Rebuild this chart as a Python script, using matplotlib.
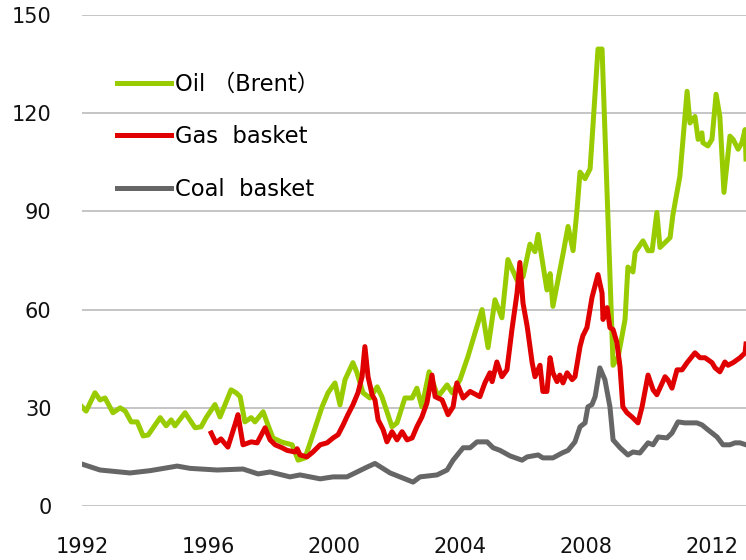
import numpy as np
import matplotlib.pyplot as plt

plt.rcParams['font.family'] = ['DejaVu Sans', 'Noto Sans CJK SC']

# decimal years / price index values
oil_t = [1992.0, 1992.13, 1992.41, 1992.57, 1992.73, 1992.98, 1993.21, 1993.37, 1993.56, 1993.75,
         1993.94, 1994.10, 1994.48, 1994.67, 1994.83, 1994.95, 1995.27, 1995.59, 1995.78, 1995.94,
         1996.22, 1996.38, 1996.73, 1996.89, 1997.02, 1997.17, 1997.37, 1997.49, 1997.75, 1997.90,
         1998.06, 1998.35, 1998.67, 1998.86, 1999.08, 1999.30, 1999.62, 1999.81, 2000.03, 2000.19,
         2000.35, 2000.60, 2000.73, 2000.92, 2001.14, 2001.37, 2001.52, 2001.68, 2001.84, 2002.00,
         2002.25, 2002.48, 2002.63, 2002.79, 2003.02, 2003.30, 2003.59, 2003.75, 2004.00, 2004.25,
         2004.48, 2004.70, 2004.89, 2005.11, 2005.33, 2005.52, 2005.81, 2006.00, 2006.22, 2006.38,
         2006.48, 2006.76, 2006.86, 2006.95, 2007.17, 2007.27, 2007.43, 2007.59, 2007.71, 2007.81,
         2007.97, 2008.13, 2008.22, 2008.38, 2008.51, 2008.86, 2009.02, 2009.24, 2009.33, 2009.49,
         2009.56, 2009.81, 2009.97, 2010.10, 2010.25, 2010.35, 2010.51, 2010.67, 2010.76, 2010.98,
         2011.21, 2011.30, 2011.46, 2011.56, 2011.68, 2011.71, 2011.87, 2012.00, 2012.13, 2012.25,
         2012.38, 2012.57, 2012.67, 2012.83, 2012.95, 2013.05, 2013.08]
oil_v = [30.3, 29.0, 34.6, 32.4, 33.0, 28.5, 30.0, 29.0, 25.7, 25.7,
         21.4, 21.7, 27.0, 24.5, 26.3, 24.5, 28.5, 23.9, 24.2, 27.0,
         31.0, 27.2, 35.5, 34.6, 33.4, 25.7, 27.0, 25.7, 28.8, 24.8,
         20.8, 19.5, 18.7, 14.0, 14.7, 21.0, 30.3, 34.6, 37.6, 30.9,
         38.6, 43.8, 40.7, 34.6, 33.0, 36.4, 33.4, 28.8, 24.2, 25.4,
         33.0, 33.0, 36.0, 30.3, 41.0, 33.4, 37.0, 34.6, 38.6, 45.6,
         53.0, 60.0, 48.4, 63.0, 57.5, 75.3, 69.0, 70.0, 80.0, 77.7,
         83.0, 66.0, 71.0, 61.0, 72.0, 77.0, 85.4, 78.0, 90.0, 102.0,
         100.0, 103.0, 116.0, 139.6, 139.6, 43.0, 45.5, 57.0, 73.0, 71.5,
         77.5, 81.0, 78.0, 78.0, 89.7, 79.0, 80.5, 82.0, 89.0, 100.7,
         126.7, 117.0, 119.0, 112.0, 114.0, 111.0, 110.0, 112.0, 125.8, 119.0,
         95.8, 113.0, 112.0, 109.0, 111.0, 115.0, 106.0]

gas_t = [1996.10, 1996.25, 1996.41, 1996.63, 1996.86, 1996.95, 1997.11, 1997.37, 1997.56, 1997.81,
         1997.97, 1998.13, 1998.35, 1998.51, 1998.76, 1998.83, 1998.92, 1999.14, 1999.33, 1999.56,
         1999.78, 1999.97, 2000.13, 2000.29, 2000.44, 2000.60, 2000.76, 2000.89, 2000.98, 2001.08,
         2001.21, 2001.30, 2001.40, 2001.56, 2001.68, 2001.84, 2002.00, 2002.16, 2002.32, 2002.48,
         2002.63, 2002.79, 2002.95, 2003.11, 2003.21, 2003.43, 2003.62, 2003.78, 2003.90, 2004.10,
         2004.32, 2004.63, 2004.79, 2004.95, 2005.02, 2005.17, 2005.33, 2005.49, 2005.65, 2005.81,
         2005.90, 2006.00, 2006.13, 2006.16, 2006.29, 2006.38, 2006.54, 2006.63, 2006.76, 2006.86,
         2006.95, 2007.08, 2007.17, 2007.27, 2007.40, 2007.56, 2007.65, 2007.81, 2007.90, 2008.03,
         2008.19, 2008.38, 2008.51, 2008.54, 2008.67, 2008.76, 2008.86, 2008.98, 2009.08, 2009.17,
         2009.30, 2009.46, 2009.65, 2009.78, 2009.97, 2010.13, 2010.25, 2010.51, 2010.60, 2010.73,
         2010.89, 2011.05, 2011.21, 2011.46, 2011.62, 2011.78, 2012.00, 2012.10, 2012.25, 2012.41,
         2012.51, 2012.67, 2012.89, 2013.05, 2013.08]
gas_v = [22.3, 19.3, 20.5, 18.0, 25.0, 27.9, 18.7, 19.6, 19.3, 23.9,
         20.2, 18.7, 17.8, 17.0, 16.5, 17.5, 15.6, 15.0, 16.5, 18.7,
         19.3, 20.8, 21.8, 24.8, 27.9, 30.9, 34.6, 39.5, 48.7, 39.5,
         34.0, 32.4, 26.3, 23.3, 19.6, 22.7, 20.2, 22.7, 20.2, 20.8,
         24.2, 27.2, 31.5, 40.0, 33.4, 32.4, 27.9, 30.3, 37.6, 33.0,
         35.0, 33.4, 37.6, 40.7, 38.0, 44.0, 39.5, 41.6, 54.0, 65.0,
         74.4, 62.0, 55.0, 53.0, 43.8, 39.5, 43.0, 35.0, 35.0, 45.3,
         40.7, 38.0, 40.0, 37.6, 40.7, 38.6, 39.5, 48.7, 52.0, 54.5,
         63.7, 70.7, 65.0, 57.0, 60.6, 54.5, 53.9, 50.0, 42.5, 30.3,
         28.5, 27.2, 25.4, 30.3, 40.0, 35.5, 34.0, 39.5, 38.5, 36.0,
         41.6, 41.6, 43.8, 46.8, 45.3, 45.3, 43.8, 42.2, 41.0, 44.0,
         43.0, 43.8, 45.3, 46.8, 49.5]

coal_t = [1992.0, 1992.57, 1993.52, 1994.16, 1995.02, 1995.43, 1996.29, 1997.11, 1997.59, 1997.97,
          1998.60, 1998.92, 1999.56, 1999.97, 2000.41, 2001.05, 2001.30, 2001.78, 2002.51, 2002.73,
          2003.27, 2003.59, 2003.78, 2004.10, 2004.32, 2004.54, 2004.86, 2005.05, 2005.27, 2005.59,
          2005.97, 2006.13, 2006.48, 2006.63, 2006.95, 2007.24, 2007.43, 2007.65, 2007.81, 2007.97,
          2008.06, 2008.19, 2008.29, 2008.44, 2008.60, 2008.76, 2008.86, 2009.08, 2009.33, 2009.49,
          2009.71, 2009.97, 2010.13, 2010.29, 2010.57, 2010.73, 2010.92, 2011.14, 2011.52, 2011.68,
          2011.87, 2012.16, 2012.35, 2012.57, 2012.73, 2012.89, 2013.08]
coal_v = [12.8, 11.0, 10.1, 10.8, 12.2, 11.5, 11.0, 11.3, 9.8, 10.4,
          8.9, 9.5, 8.3, 8.9, 8.9, 11.9, 13.0, 10.1, 7.3, 8.9,
          9.5, 11.0, 14.0, 17.8, 17.8, 19.6, 19.6, 17.8, 17.0, 15.3,
          14.0, 15.0, 15.6, 14.7, 14.7, 16.2, 17.0, 19.6, 24.2, 25.4,
          30.3, 31.0, 33.4, 42.2, 38.6, 30.3, 20.2, 17.8, 15.6, 16.5,
          16.2, 19.3, 18.7, 21.1, 20.8, 22.3, 25.7, 25.4, 25.4, 24.8,
          23.3, 21.1, 18.7, 18.7, 19.3, 19.3, 18.7]

fig = plt.figure(figsize=(7.46, 5.6), dpi=100)
ax = fig.add_axes([0.110, 0.0964, 0.890, 0.8768])

ax.plot(oil_t, oil_v, color='#99cc00', lw=3.6, label='Oil （Brent）', solid_joinstyle='round')
ax.plot(gas_t, gas_v, color='#e00000', lw=3.6, label='Gas  basket', solid_joinstyle='round')
ax.plot(coal_t, coal_v, color='#666666', lw=3.6, label='Coal  basket', solid_joinstyle='round')

ax.set_xlim(1992, 2013.08)
ax.set_ylim(0, 150)
ax.set_yticks(np.arange(0, 151, 30))
ax.set_xticks([1992, 1996, 2000, 2004, 2008, 2012])
ax.grid(axis='y', color='#c0c0c0', lw=1.3)
ax.set_axisbelow(True)
for s in ax.spines.values():
    s.set_visible(False)
ax.tick_params(length=0, labelsize=15, colors='#111111')
ax.tick_params(axis='y', pad=22)
ax.tick_params(axis='x', pad=22)

ax.legend(loc='upper left', bbox_to_anchor=(0.035, 0.905), frameon=False, fontsize=16.3,
          handlelength=2.4, handletextpad=0.2, labelspacing=1.3, borderpad=0)

fig.savefig('out.png', dpi=100)
